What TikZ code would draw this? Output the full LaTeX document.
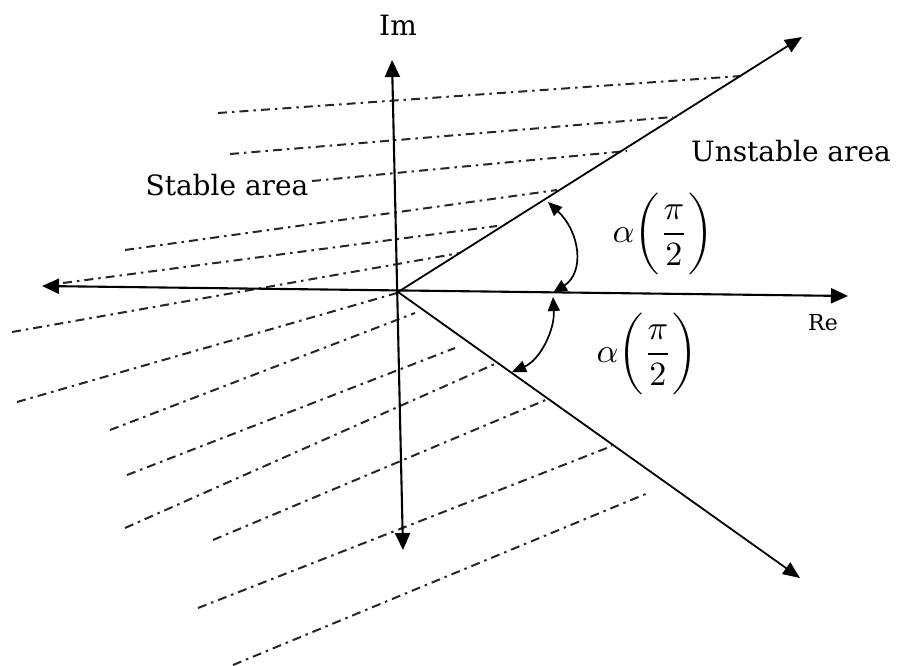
\documentclass[tikz,border=0pt]{standalone}
\usepackage{amsmath}
\usepackage{graphicx}
\usepackage{fontspec}
\setmainfont{DejaVu Serif}
\usetikzlibrary{arrows.meta}
\begin{document}
\begin{tikzpicture}[x=1pt,y=-1pt,
  axis/.style={line width=2.1pt, {Triangle[length=17pt,width=15pt]}-{Triangle[length=17pt,width=15pt]}},
  ray/.style={line width=1.8pt, -{Triangle[length=17pt,width=14pt]}},
  hatch/.style={line width=2pt, black!85, dash pattern=on 9pt off 5pt on 2.5pt off 5pt},
  angarc/.style={line width=1.7pt, {Triangle[length=14pt,width=12pt]}-{Triangle[length=14pt,width=12pt]}},
  lbl/.style={inner sep=0pt, anchor=base, font=\fontsize{28}{34}\selectfont},
  smalllbl/.style={inner sep=0pt, anchor=base, font=\fontsize{22}{26}\selectfont},
  alabel/.style={inner sep=0pt}]
\useasboundingbox (0,0) rectangle (900,666);

% hatching (dash-dot lines)
\foreach \a/\b/\c/\d in {
  218/113/741/76, 230/154/673/117, 312/181/627/151, 125/250/557/190,
  63/283/497/226, 12/332/460/253, 17/402/397/293, 110/430/415/313,
  127/475/455/348, 125/528/497/363, 213/540/548/399, 198/608/612/446,
  233/665/648/493}
  \draw[hatch] (\a,\b) -- (\c,\d);

% axes
\coordinate (O) at (398,292);
\coordinate (imtop) at (392,60);
\coordinate (imbot) at (403,550);
\coordinate (releft) at (42,286);
\coordinate (reright) at (848,296);
\coordinate (uptip) at (802,37);
\coordinate (downtip) at (800,578);

\draw[axis] (imbot) -- (imtop);
\draw[axis] (releft) -- (reright);
\draw[ray] (O) -- (uptip);
\draw[ray] (O) -- (downtip);

% angle arcs
\coordinate (u1) at (548,202);
\coordinate (u2) at (553,293);
\coordinate (l1) at (553,297);
\coordinate (l2) at (512,372);
\draw[angarc] (u1) .. controls (580,232) and (585,272) .. (u2);
\draw[angarc] (l1) .. controls (555,330) and (540,360) .. (l2);

% labels
\node[lbl] (im) at (398,36) {Im};
\node[smalllbl] (re) at (823,330) {Re};
\node[lbl] (stable) at (227,195) {Stable area};
\node[lbl] (unstable) at (791,162) {Unstable area};
\node[alabel] (a1) at (663,234) {\scalebox{3.4}{$\alpha\biggl(\dfrac{\pi}{2}\biggr)$}};
\node[alabel] (a2) at (647,354) {\scalebox{3.4}{$\alpha\biggl(\dfrac{\pi}{2}\biggr)$}};
\end{tikzpicture}
\end{document}
